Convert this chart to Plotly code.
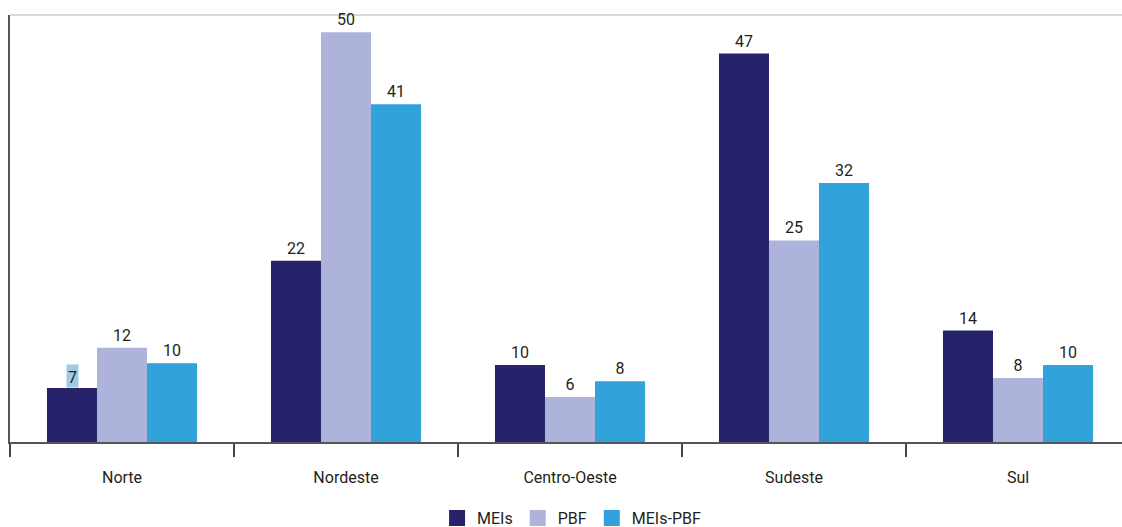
import plotly.graph_objects as go

categories = ["Norte", "Nordeste", "Centro-Oeste", "Sudeste", "Sul"]
series_names = ["MEIs", "PBF", "MEIs-PBF"]
meis = [6.6, 22.1, 9.4, 47.4, 13.6]
pbf = [11.5, 50.0, 5.5, 24.6, 7.8]
meis_pbf = [9.6, 41.2, 7.4, 31.6, 9.4]
meis_labels = ["7", "22", "10", "47", "14"]
pbf_labels = ["12", "50", "6", "25", "8"]
meis_pbf_labels = ["10", "41", "8", "32", "10"]
colors = ["#27236b", "#aeb3dc", "#31a2dc"]

FONT = "Roboto, Arial, sans-serif"

fig = go.Figure()
for name, vals, labs, col in zip(series_names, [meis, pbf, meis_pbf],
                                 [meis_labels, pbf_labels, meis_pbf_labels], colors):
    fig.add_trace(go.Bar(
        x=categories, y=vals, name=name, text=labs, showlegend=False,
        textposition="outside", cliponaxis=False,
        textfont=dict(size=16, color="#231f20", family=FONT),
        marker=dict(color=col, line=dict(width=0)),
    ))
# legend entries with larger square swatches
for name, col in zip(series_names, colors):
    fig.add_trace(go.Scatter(
        x=[None], y=[None], mode="markers", name=name,
        marker=dict(symbol="square", size=16, color=col),
    ))

# highlighted label on first bar (light blue box behind "7")
fig.add_annotation(x=categories[0], y=meis[0], text=meis_labels[0], xshift=-50,
                   yanchor="bottom", showarrow=False, bgcolor="#9fcbe6",
                   width=11, height=22, borderpad=0, valign="bottom",
                   font=dict(size=16, color="#231f20", family=FONT))

fig.add_shape(type="line", xref="paper", yref="paper", x0=0, x1=1, y0=1, y1=1,
              layer="below", line=dict(color="#d9d9d9", width=2))

fig.update_layout(
    width=1122, height=527,
    margin=dict(l=10, r=0, t=15, b=85, autoexpand=False),
    plot_bgcolor="white", paper_bgcolor="white",
    barmode="group", bargap=0.33, bargroupgap=0,
    showlegend=True,
    legend=dict(orientation="h", x=0.505, xanchor="center", y=-0.218, yanchor="bottom",
                font=dict(size=16, color="#231f20", family=FONT),
                itemwidth=30, traceorder="normal", tracegroupgap=0),
    font=dict(family=FONT),
)
fig.update_xaxes(
    range=[-0.5, -0.5 + 1112 / 224], showline=True, linecolor="#555555", linewidth=2,
    ticks="outside", tickson="boundaries", ticklen=13, tickcolor="#444444", tickwidth=2,
    ticklabelstandoff=20,
    tickfont=dict(size=16, color="#231f20", family=FONT), showgrid=False,
)
fig.update_yaxes(
    range=[0, 52.1], showline=True, linecolor="#555555", linewidth=2,
    showticklabels=False, ticks="", showgrid=False, zeroline=False,
)

fig.write_html("out.html")
